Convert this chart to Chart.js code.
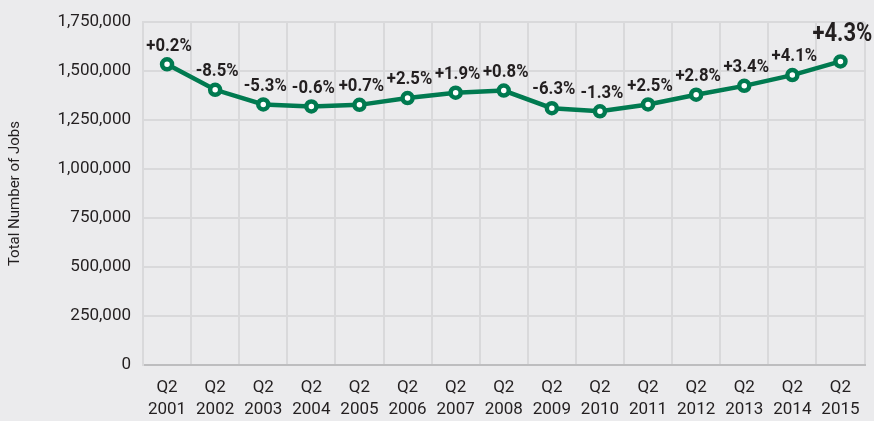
<!DOCTYPE html>
<html>
<head>
<meta charset="utf-8">
<script src="https://cdn.jsdelivr.net/npm/chart.js@4/dist/chart.umd.min.js"></script>
<style>
  html, body { margin: 0; padding: 0; background: #ebebed; }
  #wrap { width: 874px; height: 421px; position: relative; }
</style>
</head>
<body>
<div id="wrap"><canvas id="chart"></canvas></div>
<script>
const quarters = ['Q2', 'Q2', 'Q2', 'Q2', 'Q2', 'Q2', 'Q2', 'Q2', 'Q2', 'Q2', 'Q2', 'Q2', 'Q2', 'Q2', 'Q2'];
const years = ['2001', '2002', '2003', '2004', '2005', '2006', '2007', '2008', '2009', '2010', '2011', '2012', '2013', '2014', '2015'];
const totalJobs = [1535000, 1405000, 1330000, 1320000, 1328000, 1363000, 1390000, 1401000, 1311000, 1295000, 1330000, 1380000, 1425000, 1480000, 1550000];
const changeLabels = ['+0.2%', '-8.5%', '-5.3%', '-0.6%', '+0.7%', '+2.5%', '+1.9%', '+0.8%', '-6.3%', '-1.3%', '+2.5%', '+2.8%', '+3.4%', '+4.1%', '+4.3%'];

const GREEN = '#007a50';
const TEXT = '#231f20';
const FONT = 'Roboto, "Liberation Sans", sans-serif';

// percent change labels above each point, squeezed a little to look condensed
const changeLabelPlugin = {
  id: 'changeLabels',
  afterDatasetsDraw(chart) {
    const ctx = chart.ctx;
    const meta = chart.getDatasetMeta(0);
    ctx.save();
    ctx.fillStyle = TEXT;
    ctx.textAlign = 'center';
    ctx.textBaseline = 'bottom';
    meta.data.forEach((pt, i) => {
      const last = i === meta.data.length - 1;
      ctx.save();
      ctx.translate(pt.x + 2, pt.y - (last ? 14 : 9));
      ctx.scale(0.88, 1);
      ctx.font = (last ? 'bold 25px ' : 'bold 19px ') + FONT;
      ctx.fillText(changeLabels[i], 0, 0);
      ctx.restore();
    });
    ctx.restore();
  }
};

new Chart(document.getElementById('chart'), {
  type: 'line',
  data: {
    labels: quarters.map((q, i) => [q, years[i]]),
    datasets: [{
      data: totalJobs,
      borderColor: GREEN,
      borderWidth: 4.5,
      pointRadius: 5,
      pointBorderWidth: 4.5,
      pointBackgroundColor: '#ffffff',
      pointBorderColor: GREEN,
      tension: 0
    }]
  },
  options: {
    responsive: true,
    maintainAspectRatio: false,
    animation: false,
    layout: { padding: { top: 14, right: 8, left: 0, bottom: 0 } },
    plugins: {
      legend: { display: false },
      tooltip: { enabled: false }
    },
    scales: {
      x: {
        offset: true,
        grid: { offset: true, color: '#d9d9db', lineWidth: 2, drawTicks: false },
        border: { color: '#bdbdbf', width: 2 },
        ticks: {
          color: TEXT,
          font: { family: FONT, size: 17, lineHeight: 1.3 },
          padding: 12,
          maxRotation: 0,
          autoSkip: false
        },
        afterFit(scale) { scale.height = 56; }
      },
      y: {
        min: 0,
        max: 1750000,
        grid: { color: '#d9d9db', lineWidth: 2, drawTicks: false },
        border: { color: '#d9d9db', width: 2 },
        ticks: {
          stepSize: 250000,
          color: TEXT,
          font: { family: FONT, size: 17 },
          padding: 12,
          callback: v => v.toLocaleString('en-US')
        },
        title: {
          display: true,
          text: 'Total Number of Jobs',
          color: TEXT,
          font: { family: FONT, size: 15 },
          padding: { top: 6, bottom: 0 }
        },
        afterFit(scale) { scale.width = 143; }
      }
    }
  },
  plugins: [changeLabelPlugin]
});
</script>
</body>
</html>
